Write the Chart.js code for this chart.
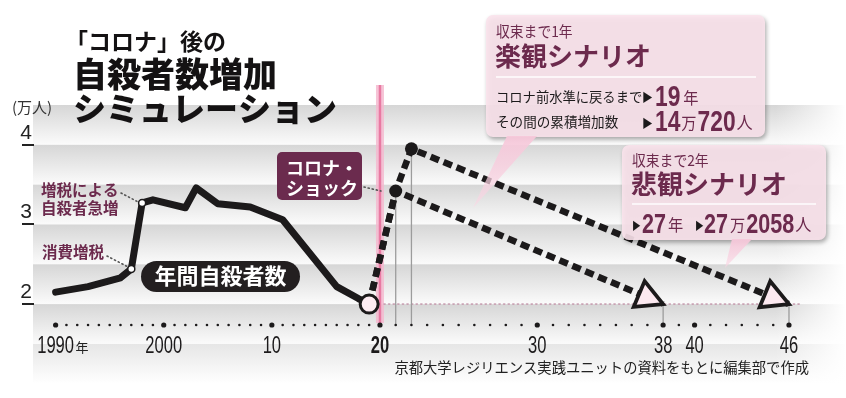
<!DOCTYPE html>
<html lang="ja">
<head>
<meta charset="utf-8">
<title>「コロナ」後の自殺者数増加シミュレーション</title>
<script src="https://cdn.jsdelivr.net/npm/chart.js@4.4.1/dist/chart.umd.min.js"></script>
<style>
  html, body { margin: 0; padding: 0; background: #fff; }
  #wrap { position: relative; width: 846px; height: 398px; }
</style>
</head>
<body>
<div id="wrap"><canvas id="suicideChart"></canvas></div>
<script>
// 年間自殺者数（万人）
const pastYears = [1990, 1993, 1996, 1997, 1998, 1999, 2002, 2003, 2005, 2008, 2011, 2016, 2018, 2019];
const pastValues = [2.15, 2.22, 2.33, 2.44, 3.27, 3.31, 3.21, 3.46, 3.26, 3.22, 3.06, 2.22, 2.07, 2.0];

// 楽観シナリオ (収束まで1年)
const optYears = [2019, 2021, 2038];
const optValues = [2.0, 3.42, 2.0];

// 悲観シナリオ (収束まで2年)
const pesYears = [2019, 2021, 2022, 2046];
const pesValues = [2.0, 3.42, 3.95, 2.0];

const xTickYears = [1990, 2000, 2010, 2020, 2030, 2038, 2040, 2046];
const xTickLabels = ['1990', '2000', '10', '20', '30', '38', '40', '46'];
const yTickValues = [2, 3, 4];

// the original stretches the years after 2020
const STRETCH = 1.455;
const toU = yr => (yr <= 2020 ? yr - 1990 : 30 + (yr - 2020) * STRETCH);

const JP = '"Noto Sans CJK JP", "Noto Sans", sans-serif';
const NUM = '"Liberation Sans", Arimo, sans-serif';
const MAROON = '#6c2a4d';

const px = (chart, yr) => chart.scales.x.getPixelForValue(toU(yr));
const py = (chart, v) => chart.scales.y.getPixelForValue(v);

function dotted(ctx, x1, y1, x2, y2, color, width, dash) {
  ctx.save();
  ctx.strokeStyle = color;
  ctx.lineWidth = width;
  ctx.setLineDash(dash);
  ctx.lineCap = 'round';
  ctx.beginPath();
  ctx.moveTo(x1, y1);
  ctx.lineTo(x2, y2);
  ctx.stroke();
  ctx.restore();
}

// sx < 1 squeezes the text sideways (the figures in the original are condensed)
function text(ctx, t, x, y, font, color, align, sx) {
  sx = sx || 1;
  ctx.save();
  ctx.font = font;
  ctx.fillStyle = color;
  ctx.textAlign = align || 'left';
  ctx.textBaseline = 'alphabetic';
  ctx.translate(x, y);
  ctx.scale(sx, 1);
  ctx.fillText(t, 0, 0);
  const w = ctx.measureText(t).width * sx;
  ctx.restore();
  return x + w;
}

// draw a run of pieces one after another on a shared baseline
// piece: [text, font, color, dy, gapAfter, squeeze]
function runs(ctx, x, y, pieces) {
  pieces.forEach(p => {
    x = text(ctx, p[0], x, y + (p[3] || 0), p[1], p[2], 'left', p[5]) + (p[4] || 0);
  });
}

function callout(ctx, box, pointer) {
  ctx.save();
  ctx.shadowColor = 'rgba(0,0,0,0.35)';
  ctx.shadowBlur = 4;
  ctx.shadowOffsetX = 1.5;
  ctx.shadowOffsetY = 2.5;
  ctx.fillStyle = 'rgba(251,227,236,0.9)';
  ctx.beginPath();
  ctx.roundRect(box[0], box[1], box[2] - box[0], box[3] - box[1], 7);
  ctx.fill();
  ctx.restore();
  ctx.save();
  const g = ctx.createLinearGradient(0, box[3], 0, pointer[5]);
  g.addColorStop(0, 'rgba(246,200,218,0.95)');
  g.addColorStop(1, 'rgba(250,215,228,0.6)');
  ctx.fillStyle = g;
  ctx.beginPath();
  ctx.moveTo(pointer[0], pointer[1]);
  ctx.lineTo(pointer[2], pointer[3]);
  ctx.lineTo(pointer[4], pointer[5]);
  ctx.closePath();
  ctx.fill();
  ctx.restore();
}

function arrowHead(ctx, tx, ty, fx, fy) {
  const a = Math.atan2(ty - fy, tx - fx);
  const len = 26, hw = 14;
  const bx = tx - len * Math.cos(a), by = ty - len * Math.sin(a);
  ctx.save();
  ctx.beginPath();
  ctx.moveTo(tx, ty);
  ctx.lineTo(bx - hw * Math.sin(a), by + hw * Math.cos(a));
  ctx.lineTo(bx + hw * Math.sin(a), by - hw * Math.cos(a));
  ctx.closePath();
  ctx.fillStyle = '#fce9f0';
  ctx.fill();
  ctx.lineWidth = 3.8;
  ctx.lineJoin = 'miter';
  ctx.strokeStyle = '#1c1a1b';
  ctx.stroke();
  ctx.restore();
}

const decorations = {
  id: 'decorations',
  beforeDraw(chart) {
    const ctx = chart.ctx;
    ctx.save();
    ctx.fillStyle = '#fff';
    ctx.fillRect(0, 0, chart.width, chart.height);
    const left = 33;
    for (let v = 4.5; v > 1.01; v -= 0.5) {
      const y0 = py(chart, v), y1 = py(chart, v - 0.5);
      const g = ctx.createLinearGradient(0, y0, 0, y1);
      g.addColorStop(0, v <= 1.5 ? '#e6e6e6' : '#d6d6d6');
      g.addColorStop(1, v <= 1.5 ? '#ffffff' : '#fbfbfb');
      ctx.fillStyle = g;
      ctx.fillRect(left, y0, chart.width - left, y1 - y0);
    }
    const fade = ctx.createLinearGradient(775, 0, 846, 0);
    fade.addColorStop(0, 'rgba(255,255,255,0)');
    fade.addColorStop(1, 'rgba(255,255,255,1)');
    ctx.fillStyle = fade;
    ctx.fillRect(775, 0, 71, chart.height);
    ctx.restore();
  },
  beforeDatasetsDraw(chart) {
    const ctx = chart.ctx;
    const axisY = chart.chartArea.bottom - 3;
    const x20 = px(chart, 2020);
    ctx.save();
    // pink line at 2020
    ctx.strokeStyle = 'rgba(245,184,207,0.85)';
    ctx.lineWidth = 8;
    ctx.beginPath(); ctx.moveTo(x20, 85); ctx.lineTo(x20, axisY - 2); ctx.stroke();
    ctx.strokeStyle = '#e87aa2';
    ctx.lineWidth = 2.5;
    ctx.beginPath(); ctx.moveTo(x20, 85); ctx.lineTo(x20, axisY - 2); ctx.stroke();
    ctx.restore();
    // pre-corona level
    dotted(ctx, x20 + 4, py(chart, 2), 800, py(chart, 2), '#c9a3b4', 1.6, [1.2, 3.4]);
    // thin drop lines
    ctx.save();
    ctx.strokeStyle = '#9c9c9c';
    ctx.lineWidth = 1.3;
    [[2021, 3.42], [2022, 3.95], [2038, 2.0], [2046, 2.0]].forEach(([yr, v]) => {
      const x = px(chart, yr);
      ctx.beginPath(); ctx.moveTo(x, py(chart, v)); ctx.lineTo(x, axisY); ctx.stroke();
    });
    ctx.restore();
    // axis dots
    ctx.save();
    ctx.fillStyle = '#1c1a1b';
    for (let yr = 1990; yr <= 2046; yr++) {
      const big = xTickYears.includes(yr);
      ctx.beginPath();
      ctx.arc(px(chart, yr), axisY, big ? 2.6 : 1.3, 0, Math.PI * 2);
      ctx.fill();
    }
    ctx.restore();
  },
  afterDatasetsDraw(chart) {
    const ctx = chart.ctx;
    // 楽観シナリオ box
    callout(ctx, [486, 15, 765, 137], [507, 136, 537, 136, 473, 208]);
    // 悲観シナリオ box
    callout(ctx, [622, 145, 826, 240], [732, 239, 752, 239, 725, 268]);

    ctx.save();
    ctx.strokeStyle = 'rgba(255,255,255,0.95)';
    ctx.lineWidth = 1.5;
    ctx.beginPath(); ctx.moveTo(496, 77); ctx.lineTo(756, 77); ctx.stroke();
    ctx.beginPath(); ctx.moveTo(632, 204); ctx.lineTo(816, 204); ctx.stroke();
    ctx.restore();

    text(ctx, '収束まで1年', 496, 37, '15px ' + JP, MAROON, 'left', 0.92);
    text(ctx, '楽観シナリオ', 495, 66, 'bold 26px ' + JP, MAROON);
    text(ctx, 'コロナ前水準に戻るまで', 496, 102, '13.3px ' + JP, '#1c1a1b');
    text(ctx, '▶', 642, 102, '12px ' + JP, '#1c1a1b', 'left', 0.9);
    runs(ctx, 655, 106, [['19', 'bold 30px ' + NUM, MAROON, 0, 3, 0.76], ['年', '16px ' + JP, MAROON, -2, 0, 0.95]]);
    text(ctx, 'その間の累積増加数', 496, 127, '14px ' + JP, '#1c1a1b', 'left', 0.97);
    text(ctx, '▶', 642, 128, '12px ' + JP, '#1c1a1b', 'left', 0.9);
    runs(ctx, 655, 131, [
      ['14', 'bold 30px ' + NUM, MAROON, 0, 1, 0.76],
      ['万', '16px ' + JP, MAROON, -2, 1, 0.95],
      ['720', 'bold 30px ' + NUM, MAROON, 0, 1, 0.76],
      ['人', '17px ' + JP, MAROON, -2, 0, 0.95]
    ]);

    text(ctx, '収束まで2年', 632, 166, '15px ' + JP, MAROON, 'left', 0.92);
    text(ctx, '悲観シナリオ', 631, 194, 'bold 26px ' + JP, MAROON);
    text(ctx, '▶', 632, 230, '11px ' + JP, '#1c1a1b', 'left', 0.8);
    runs(ctx, 642, 233, [['27', 'bold 27px ' + NUM, MAROON, 0, 2, 0.8], ['年', '16px ' + JP, MAROON, -2, 0, 0.95]]);
    text(ctx, '▶', 695, 230, '11px ' + JP, '#1c1a1b', 'left', 0.8);
    runs(ctx, 704, 233, [
      ['27', 'bold 27px ' + NUM, MAROON, 0, 2, 0.8],
      ['万', '16px ' + JP, MAROON, -2, 1, 0.95],
      ['2058', 'bold 27px ' + NUM, MAROON, 0, 1, 0.8],
      ['人', '17px ' + JP, MAROON, -2, 0, 0.95]
    ]);

    // arrow heads at the end of each scenario
    arrowHead(ctx, px(chart, 2038), py(chart, 2), px(chart, 2021), py(chart, 3.42));
    arrowHead(ctx, px(chart, 2046), py(chart, 2), px(chart, 2022), py(chart, 3.95));
  },
  afterDraw(chart) {
    const ctx = chart.ctx;
    const xs = chart.scales.x;
    // year labels at the x scale's ticks, condensed like the original
    xs.ticks.forEach((t, i) => {
      const bold = xTickLabels[i] === '20';
      text(ctx, xTickLabels[i], xs.getPixelForValue(t.value), 353,
        (bold ? 'bold ' : '') + '23px ' + NUM, '#1c1a1b', 'center', 0.72);
    });
    ctx.save();
    ctx.font = '23px ' + NUM;
    const half = ctx.measureText('1990').width * 0.72 / 2;
    ctx.restore();
    text(ctx, '年', px(chart, 1990) + half + 1.5, 352, '13px ' + JP, '#222');

    // title
    text(ctx, '「コロナ」後の', 65, 50, 'bold 23px ' + JP, '#141213');
    text(ctx, '自殺者数増加', 73, 87, '900 34px ' + JP, '#141213');
    text(ctx, 'シミュレーション', 73, 121, '900 33px ' + JP, '#141213');

    text(ctx, '(万人)', 12, 113, '15px ' + JP, '#333');

    // left notes
    text(ctx, '増税による', 41, 196, 'bold 15.5px ' + JP, MAROON);
    text(ctx, '自殺者急増', 41, 214, 'bold 15.5px ' + JP, MAROON);
    dotted(ctx, 121, 193, px(chart, 1998) - 4, py(chart, 3.27) - 1, '#555', 1.6, [1.2, 3]);
    text(ctx, '消費増税', 42, 258, 'bold 15.5px ' + JP, MAROON);
    dotted(ctx, 107, 256, px(chart, 1997) - 3, py(chart, 2.44) - 2, '#555', 1.6, [1.2, 3]);

    // series name pill
    ctx.save();
    ctx.fillStyle = '#231f20';
    ctx.beginPath();
    ctx.roundRect(141, 261, 159, 31, 15.5);
    ctx.fill();
    ctx.restore();
    text(ctx, '年間自殺者数', 220.5, 284, 'bold 22px ' + JP, '#fff', 'center');

    // corona shock label
    ctx.save();
    ctx.fillStyle = '#6b2b4e';
    ctx.beginPath();
    ctx.roundRect(277, 152, 85, 48, 5);
    ctx.fill();
    ctx.restore();
    text(ctx, 'コロナ・', 286, 175, 'bold 18px ' + JP, '#fff');
    text(ctx, 'ショック', 286, 195, 'bold 18px ' + JP, '#fff');
    dotted(ctx, 364, 187, px(chart, 2020) + 1, 191, '#555', 1.6, [1.2, 3]);

    // source
    text(ctx, '京都大学レジリエンス実践ユニットの資料をもとに編集部で作成', 809, 373, '14.3px ' + JP, '#222', 'right');
  }
};

const pointSize = ctx => {
  const yr = pastYears[ctx.dataIndex];
  if (yr === 2019) return 9;
  return yr === 1997 || yr === 1998 ? 3.5 : 0;
};

new Chart(document.getElementById('suicideChart'), {
  type: 'line',
  data: {
    datasets: [
      {
        label: '年間自殺者数',
        data: pastYears.map((yr, i) => ({ x: toU(yr), y: pastValues[i] })),
        borderColor: '#1c1a1b',
        borderWidth: 7,
        borderJoinStyle: 'round',
        borderCapStyle: 'round',
        tension: 0,
        pointRadius: pointSize,
        pointBackgroundColor: ctx => (pastYears[ctx.dataIndex] === 2019 ? '#fdecf2' : '#ffffff'),
        pointBorderColor: '#1c1a1b',
        pointBorderWidth: ctx => (pastYears[ctx.dataIndex] === 2019 ? 3 : 1.5),
        order: 0
      },
      {
        label: '楽観シナリオ',
        data: optYears.map((yr, i) => ({ x: toU(yr), y: optValues[i] })),
        borderColor: '#1c1a1b',
        borderWidth: 6.5,
        borderDash: [9, 5],
        tension: 0,
        pointRadius: [0, 6.5, 0],
        pointBackgroundColor: '#1c1a1b',
        pointBorderWidth: 0,
        order: 1
      },
      {
        label: '悲観シナリオ',
        data: pesYears.map((yr, i) => ({ x: toU(yr), y: pesValues[i] })),
        borderColor: '#1c1a1b',
        borderWidth: 6.5,
        borderDash: [9, 5],
        tension: 0,
        pointRadius: [0, 0, 6.5, 0],
        pointBackgroundColor: '#1c1a1b',
        pointBorderWidth: 0,
        order: 2
      }
    ]
  },
  options: {
    responsive: true,
    maintainAspectRatio: false,
    animation: false,
    layout: { padding: { top: 105, right: 46, left: 0, bottom: 0 } },
    plugins: {
      legend: { display: false },
      tooltip: { enabled: false },
      title: { display: false }
    },
    scales: {
      x: {
        type: 'linear',
        min: -2,
        max: 68.85,
        grid: { display: false },
        border: { display: false },
        afterBuildTicks: s => { s.ticks = xTickYears.map(yr => ({ value: toU(yr) })); },
        afterFit: s => { s.height = 70; },
        ticks: { display: false, autoSkip: false, maxRotation: 0 }
      },
      y: {
        min: 1.7,
        max: 4.5,
        afterBuildTicks: s => { s.ticks = yTickValues.map(v => ({ value: v })); },
        afterFit: s => { s.width = 34; },
        grid: { drawOnChartArea: false, drawTicks: true, tickLength: 12, color: '#222', lineWidth: 2 },
        border: { display: false },
        ticks: { padding: -10, labelOffset: -12, color: '#222', font: { family: NUM, size: 21 } }
      }
    }
  },
  plugins: [decorations]
});
</script>
</body>
</html>
